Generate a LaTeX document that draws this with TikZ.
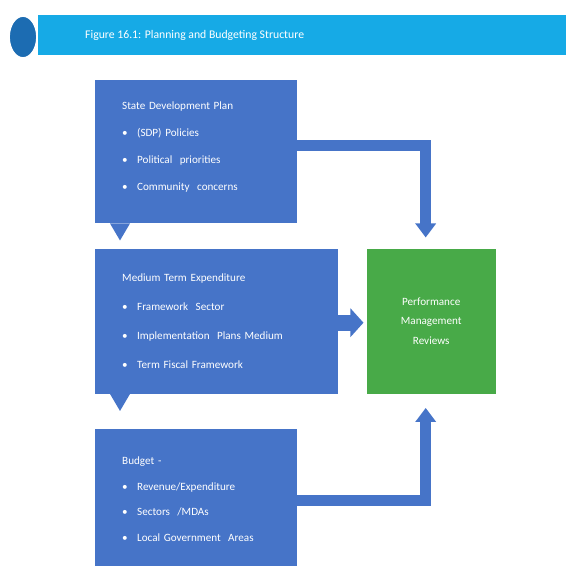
\documentclass[tikz,border=0pt]{standalone}
\usepackage{fontspec}
\setmainfont{Carlito}
\usetikzlibrary{arrows.meta,positioning}
\definecolor{barcyan}{RGB}{22,170,230}
\definecolor{dotblue}{RGB}{28,108,178}
\definecolor{planblue}{RGB}{70,116,200}
\definecolor{reviewgreen}{RGB}{72,170,72}
\tikzset{
  planbox/.style={rectangle, fill=planblue, text=white, align=left, inner sep=0pt, font=\fontsize{9.5}{23}\selectfont},
  reviewbox/.style={rectangle, fill=reviewgreen, text=white, align=center, inner sep=0pt, minimum width=3.87cm, minimum height=4.35cm, font=\fontsize{9.5}{17}\selectfont},
  pointer/.style={fill=planblue},
  flow/.style={draw=planblue, line width=0.33cm, line join=miter, -{Triangle[width=0.6cm,length=0.42cm]}},
  bigflow/.style={draw=planblue, line width=0.48cm, -{Triangle[width=0.84cm,length=0.39cm]}},
}
\newcommand{\bitem}{\textbullet\hspace{8pt}}

\begin{document}
\begin{tikzpicture}
  \clip (0,0) rectangle (16.98,-16.95);
  \fill[white] (0,0) rectangle (16.98,-16.95);

  % Title banner
  \fill[barcyan] (1.14,-0.45) rectangle (16.98,-1.65);
  \filldraw[fill=dotblue, draw=white, line width=1.5pt] (0.69,-1.11) ellipse (0.42 and 0.63);
  \node[anchor=west, inner sep=0pt, text=white, font=\fontsize{10}{12}\selectfont] (title) at (2.55,-1.05)
    {Figure 16.1: Planning and Budgeting Structure};

  % Planning boxes
  \node[planbox, anchor=north west, minimum width=6.06cm, minimum height=4.29cm, text width=4.44cm] (state) at (2.85,-2.4) {
    State Development Plan\\
    \bitem (SDP) Policies\\
    \bitem Political\ \ priorities\\
    \bitem Community\ \ concerns\\[-0.45cm]\mbox{}
  };

  \node[planbox, anchor=north west, minimum width=7.29cm, minimum height=4.35cm, text width=5.67cm,
    font=\fontsize{9.5}{25}\selectfont] (mtef) at ([yshift=-0.75cm]state.south west) {
    Medium Term Expenditure\\
    \bitem Framework\ \ Sector\\
    \bitem Implementation\ \ Plans\ Medium\\
    \bitem Term\ Fiscal\ Framework
  };

  \node[planbox, anchor=north west, minimum width=6.06cm, minimum height=4.2cm, text width=4.44cm,
    font=\fontsize{9.5}{22}\selectfont] (budget) at ([yshift=-1.05cm]mtef.south west) {
    Budget -\\
    \bitem Revenue/Expenditure\\
    \bitem Sectors\ \ /MDAs\\
    \bitem Local Government\ \ Areas
  };

  % Review box
  \node[reviewbox, right=0.84cm of mtef] (perf) {
    Performance\\
    Management\\
    Reviews
  };

  % Callout pointers
  \fill[pointer] ([xshift=0.45cm]state.south west) -- ++(0.3,-0.51) -- ++(0.3,0.51) -- cycle;
  \fill[pointer] ([xshift=0.45cm]mtef.south west) -- ++(0.3,-0.51) -- ++(0.3,0.51) -- cycle;

  % Arrows
  \draw[flow] ([yshift=0.2cm]state.east) -| ([xshift=-0.165cm,yshift=0.33cm]perf.north);
  \draw[bigflow] ([yshift=-0.045cm]mtef.east) -- ([xshift=-0.09cm,yshift=-0.045cm]perf.west);
  \draw[flow] ([yshift=-0.03cm]budget.east) -| ([xshift=-0.165cm,yshift=-0.42cm]perf.south);

\end{tikzpicture}
\end{document}
